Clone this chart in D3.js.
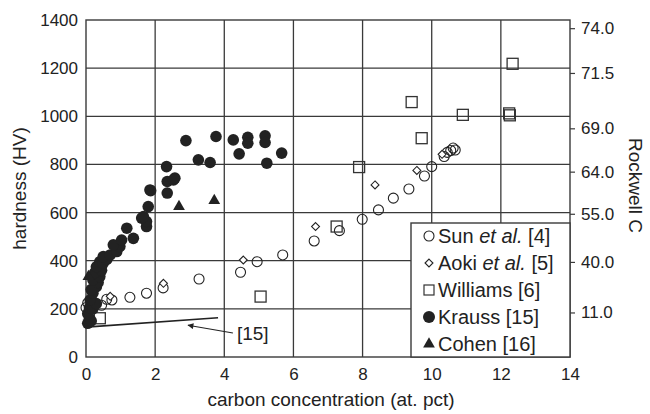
<!DOCTYPE html>
<html>
<head>
<meta charset="utf-8">
<script src="https://cdn.jsdelivr.net/npm/d3@7"></script>
<style>
  body { margin: 0; background: #fff; }
  text { font-family: Arial, "Liberation Sans", Helvetica, sans-serif; fill: #222; }
</style>
</head>
<body>
<div id="chart"></div>
<script>
// [carbon at. pct, hardness HV]
const sun = [[0.0, 205], [0.05, 225], [0.45, 215], [0.6, 240], [0.75, 237], [1.27, 248], [1.75, 265],
  [2.23, 287], [3.27, 324], [4.47, 352], [4.95, 396], [5.69, 424], [6.6, 482], [7.33, 525], [7.99, 572],
  [8.46, 611], [8.89, 660], [9.34, 698], [9.79, 752], [10.0, 791], [10.36, 833], [10.45, 850],
  [10.55, 858], [10.62, 868], [10.68, 860]];
const aoki = [[0.1, 215], [0.7, 252], [2.24, 306], [4.55, 403], [6.64, 542], [8.36, 715], [9.57, 775], [10.3, 842]];
const williams = [[0.4, 161], [5.05, 251], [7.25, 542], [7.9, 789], [9.42, 1059], [9.71, 909], [10.9, 1006],
  [12.24, 1012], [12.26, 1004], [12.34, 1218]];
const krauss = [[0.05, 140], [0.1, 160], [0.15, 150], [0.05, 180], [0.1, 205], [0.2, 200], [0.3, 222],
  [0.12, 237], [0.2, 265], [0.3, 292], [0.15, 280], [0.35, 310], [0.2, 320], [0.4, 334], [0.25, 350],
  [0.45, 360], [0.3, 375], [0.4, 396], [0.5, 390], [0.6, 405], [0.5, 417], [0.7, 424], [0.89, 438],
  [0.98, 459], [0.79, 466], [1.03, 486], [1.37, 493], [1.18, 535], [1.75, 542], [1.75, 563], [1.61, 577],
  [1.66, 583], [1.8, 625], [1.85, 694], [1.87, 691], [2.35, 681], [2.35, 729], [2.53, 736], [2.57, 743],
  [2.33, 791], [2.89, 899], [3.25, 819], [3.59, 808], [3.76, 916], [4.26, 902], [4.43, 844], [4.68, 913],
  [4.68, 888], [5.18, 919], [5.18, 891], [5.23, 805], [5.66, 847]];
const cohen = [[0.07, 334], [2.69, 625], [3.71, 650]];

const xTicks = [0, 2, 4, 6, 8, 10, 12, 14];
const yTicks = [0, 200, 400, 600, 800, 1000, 1200, 1400];
const rockwellLabels = ['74.0', '71.5', '69.0', '64.0', '55.0', '40.0', '11.0'];
const rockwellHV = [1366, 1180, 950, 770, 595, 395, 185];

// annotation for ref [15]: line and arrow, in data units
const refLine = [[0.1, 125], [3.82, 163]];
const refArrow = [[4.25, 100], [2.95, 132]];

const width = 650;
const height = 414;
const margin = { top: 20, right: 80, bottom: 57, left: 86 };

const svg = d3
  .select('#chart')
  .append('svg')
  .attr('width', width)
  .attr('height', height);

const x = d3.scaleLinear().domain([0, 14]).range([margin.left, width - margin.right]);
const y = d3.scaleLinear().domain([0, 1400]).range([height - margin.bottom, margin.top]);

const gridColor = '#3a3a3a';

// grid
svg.append('g')
  .selectAll('line')
  .data(xTicks.slice(1, -1))
  .join('line')
  .attr('x1', d => x(d)).attr('x2', d => x(d))
  .attr('y1', y(0)).attr('y2', y(1400))
  .attr('stroke', gridColor).attr('stroke-width', 1.3);

svg.append('g')
  .selectAll('line')
  .data(yTicks.slice(1, -1))
  .join('line')
  .attr('x1', x(0)).attr('x2', x(14))
  .attr('y1', d => y(d)).attr('y2', d => y(d))
  .attr('stroke', gridColor).attr('stroke-width', 1.3);

// axes
const xAxis = svg.append('g')
  .attr('transform', `translate(0,${y(0)})`)
  .call(d3.axisBottom(x).tickValues(xTicks).tickFormat(d3.format('d')).tickSize(0).tickPadding(8));
const yAxis = svg.append('g')
  .attr('transform', `translate(${x(0)},0)`)
  .call(d3.axisLeft(y).tickValues(yTicks).tickFormat(d3.format('d')).tickSize(0).tickPadding(8));
const rAxis = svg.append('g')
  .attr('transform', `translate(${x(14)},0)`)
  .call(d3.axisRight(y).tickValues(rockwellHV).tickFormat((d, i) => rockwellLabels[i]).tickSize(5).tickPadding(6));

[xAxis, yAxis, rAxis].forEach(g => {
  g.select('.domain').remove();
  g.selectAll('text').attr('font-size', 17).attr('fill', '#222')
    .style('font-family', 'Arial, "Liberation Sans", sans-serif');
  g.selectAll('line').attr('stroke', gridColor).attr('stroke-width', 1.2);
});
xAxis.selectAll('text').attr('dy', '0.9em');

// frame
svg.append('rect')
  .attr('x', x(0)).attr('y', y(1400))
  .attr('width', x(14) - x(0)).attr('height', y(0) - y(1400))
  .attr('fill', 'none').attr('stroke', gridColor).attr('stroke-width', 1.4);

// axis titles
svg.append('text')
  .attr('x', (x(0) + x(14)) / 2 + 3).attr('y', height - 8)
  .attr('text-anchor', 'middle').attr('font-size', 19)
  .text('carbon concentration (at. pct)');
svg.append('text')
  .attr('transform', `translate(26,${(y(0) + y(1400)) / 2}) rotate(-90)`)
  .attr('text-anchor', 'middle').attr('font-size', 19)
  .text('hardness (HV)');
svg.append('text')
  .attr('transform', `translate(629,${(y(0) + y(1400)) / 2 - 3}) rotate(90)`)
  .attr('text-anchor', 'middle').attr('font-size', 19)
  .text('Rockwell C');

// [15] annotation
svg.append('line')
  .attr('x1', x(refLine[0][0])).attr('y1', y(refLine[0][1]))
  .attr('x2', x(refLine[1][0])).attr('y2', y(refLine[1][1]))
  .attr('stroke', '#222').attr('stroke-width', 1.6);

svg.append('defs').append('marker')
  .attr('id', 'arrow')
  .attr('viewBox', '0 0 10 10')
  .attr('refX', 9).attr('refY', 5)
  .attr('markerWidth', 9).attr('markerHeight', 6)
  .attr('markerUnits', 'userSpaceOnUse')
  .attr('orient', 'auto')
  .append('path')
  .attr('d', 'M0,0L10,5L0,10Z')
  .attr('fill', '#222');

svg.append('line')
  .attr('x1', x(refArrow[0][0])).attr('y1', y(refArrow[0][1]))
  .attr('x2', x(refArrow[1][0])).attr('y2', y(refArrow[1][1]))
  .attr('stroke', '#222').attr('stroke-width', 1.1)
  .attr('marker-end', 'url(#arrow)');

svg.append('text')
  .attr('x', x(refArrow[0][0]) + 4).attr('y', y(refArrow[0][1]) + 7)
  .attr('font-size', 19)
  .text('[15]');

// series
const sym = type => d3.symbol().type(type);

const marks = svg.append('g');

marks.append('g')
  .selectAll('circle')
  .data(sun)
  .join('circle')
  .attr('cx', d => x(d[0])).attr('cy', d => y(d[1])).attr('r', 5)
  .attr('fill', 'none').attr('stroke', '#222').attr('stroke-width', 1.1);

marks.append('g')
  .selectAll('path')
  .data(aoki)
  .join('path')
  .attr('transform', d => `translate(${x(d[0])},${y(d[1])})`)
  .attr('d', sym(d3.symbolDiamond2).size(40))
  .attr('fill', '#fff').attr('stroke', '#222').attr('stroke-width', 1.1);

marks.append('g')
  .selectAll('rect')
  .data(williams)
  .join('rect')
  .attr('x', d => x(d[0]) - 5.5).attr('y', d => y(d[1]) - 5.5)
  .attr('width', 11).attr('height', 11)
  .attr('fill', 'none').attr('stroke', '#333').attr('stroke-width', 1.3);

marks.append('g')
  .selectAll('circle')
  .data(krauss)
  .join('circle')
  .attr('cx', d => x(d[0])).attr('cy', d => y(d[1])).attr('r', 5.8)
  .attr('fill', '#222');

marks.append('g')
  .selectAll('path')
  .data(cohen)
  .join('path')
  .attr('transform', d => `translate(${x(d[0])},${y(d[1])})`)
  .attr('d', sym(d3.symbolTriangle).size(60))
  .attr('fill', '#222');

// legend
const legendItems = [
  { name: 'Sun', ital: 'et al.', ref: '[4]' },
  { name: 'Aoki', ital: 'et al.', ref: '[5]' },
  { name: 'Williams', ital: '', ref: '[6]' },
  { name: 'Krauss', ital: '', ref: '[15]' },
  { name: 'Cohen', ital: '', ref: '[16]' }
];

const legend = svg.append('g');
legend.append('rect')
  .attr('x', 411).attr('y', 223)
  .attr('width', x(14) - 411).attr('height', y(0) - 223)
  .attr('fill', '#fff').attr('stroke', gridColor).attr('stroke-width', 1.4);

const rows = legend.selectAll('g.row')
  .data(legendItems)
  .join('g')
  .attr('class', 'row')
  .attr('transform', (d, i) => `translate(429,${236 + i * 27})`);

rows.each(function (d, i) {
  const g = d3.select(this);
  if (i === 0) g.append('circle').attr('r', 5).attr('fill', 'none').attr('stroke', '#222').attr('stroke-width', 1.1);
  if (i === 1) g.append('path').attr('d', sym(d3.symbolDiamond2).size(40)).attr('fill', 'none').attr('stroke', '#222').attr('stroke-width', 1.1);
  if (i === 2) g.append('rect').attr('x', -5).attr('y', -5).attr('width', 10).attr('height', 10).attr('fill', 'none').attr('stroke', '#333').attr('stroke-width', 1.2);
  if (i === 3) g.append('circle').attr('r', 6).attr('fill', '#222');
  if (i === 4) g.append('path').attr('d', sym(d3.symbolTriangle).size(60)).attr('fill', '#222');
  const t = g.append('text').attr('x', 9).attr('y', 7).attr('font-size', 20);
  t.append('tspan').text(d.name + ' ');
  if (d.ital) {
    t.append('tspan').attr('font-style', 'italic').text(d.ital);
    t.append('tspan').text(' ' + d.ref);
  } else {
    t.append('tspan').text(d.ref);
  }
});
</script>
</body>
</html>
